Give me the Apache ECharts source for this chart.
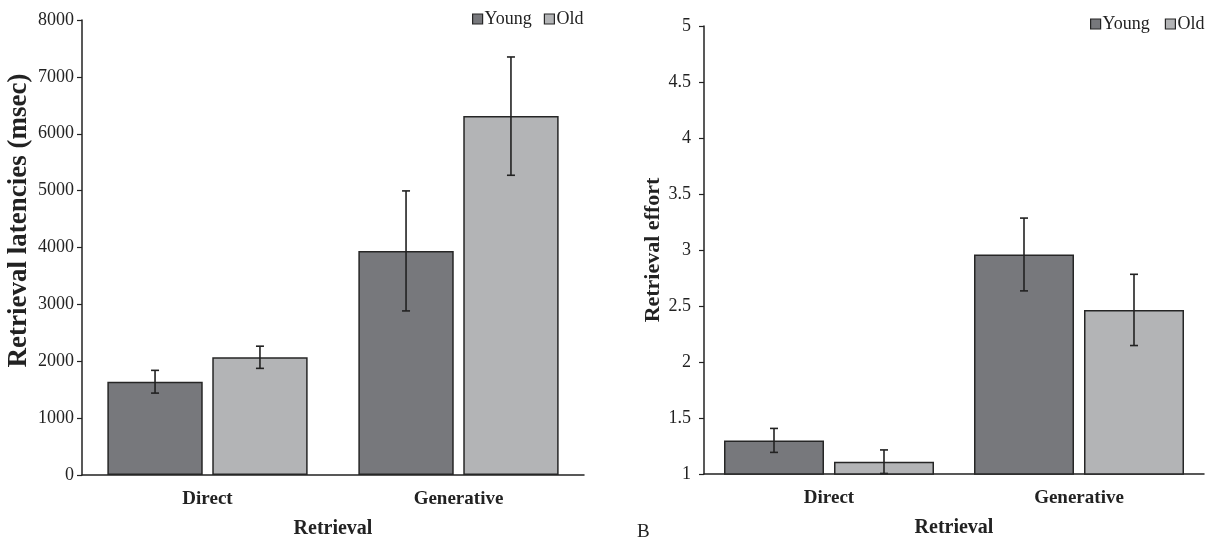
<!DOCTYPE html>
<html>
<head>
<meta charset="utf-8">
<script src="https://cdn.jsdelivr.net/npm/echarts@6/dist/echarts.min.js"></script>
<style>html,body{margin:0;padding:0;background:#fff}#c{width:1212px;height:541px}</style>
</head>
<body>
<div id="c"></div>
<script>
var categories = ['Direct', 'Generative'];
var seriesNames = ['Young', 'Old'];
// Left panel: retrieval latencies (msec)
var latYoung = [1640, 3940];
var latOld = [2070, 6310];
var latYoungErr = [200, 1055];
var latOldErr = [195, 1040];
var latTicks = [0, 8000, 1000];
// Right panel: retrieval effort
var effYoung = [1.30, 2.96];
var effOld = [1.11, 2.465];
var effYoungErr = [0.107, 0.325];
var effOldErr = [0.105, 0.318];
var effTicks = [1, 5, 0.5];

var FONT = 'Liberation Serif';
var darkFill = '#77787c';
var lightFill = '#b3b4b6';
var edge = '#262626';

function errSeries(name, xi, yi, vals, errs, sign, bwPct) {
  var data = vals.map(function (v, i) { return [i, v, errs[i]]; });
  return {
    type: 'custom', name: name + ' err', xAxisIndex: xi, yAxisIndex: yi, z: 10,
    silent: true, tooltip: { show: false },
    renderItem: function (params, api) {
      var x = api.value(0), v = api.value(1), e = api.value(2);
      var band = api.size([1, 0])[0];
      var off = sign * band * bwPct * 1.1 / 2;
      var top = api.coord([x, v + e]);
      var bot = api.coord([x, v - e]);
      var cx = top[0] + off;
      var cap = 4;
      var st = { stroke: '#222', lineWidth: 1.6 };
      return { type: 'group', children: [
        { type: 'line', shape: { x1: cx, y1: top[1], x2: cx, y2: bot[1] }, style: st },
        { type: 'line', shape: { x1: cx - cap, y1: top[1], x2: cx + cap, y2: top[1] }, style: st },
        { type: 'line', shape: { x1: cx - cap, y1: bot[1], x2: cx + cap, y2: bot[1] }, style: st }
      ]};
    },
    data: data
  };
}

function barSeries(name, xi, yi, vals, color, bw) {
  return {
    type: 'bar', name: name, xAxisIndex: xi, yAxisIndex: yi,
    data: vals, barWidth: bw, barGap: '10%',
    itemStyle: { color: color, borderColor: edge, borderWidth: 1.5 },
    emphasis: { disabled: true }
  };
}

function xAx(gi) {
  return {
    type: 'category', gridIndex: gi, data: categories,
    axisLine: { lineStyle: { color: '#222', width: 1.5 } },
    axisTick: { show: false },
    axisLabel: { fontFamily: FONT, fontWeight: 'bold', fontSize: 19, color: '#222', margin: 15 },
    name: 'Retrieval', nameLocation: 'middle', nameGap: 44,
    nameTextStyle: { fontFamily: FONT, fontWeight: 'bold', fontSize: 20, color: '#222' }
  };
}
function yAx(gi, t, name, gap, nameSize, margin, namePad) {
  return {
    type: 'value', gridIndex: gi, min: t[0], max: t[1], interval: t[2],
    axisLine: { show: true, lineStyle: { color: '#222', width: 1.5 } },
    axisTick: { show: true, length: 5, lineStyle: { color: '#222', width: 1.2 } },
    splitLine: { show: false },
    axisLabel: { fontFamily: FONT, fontSize: 18, color: '#222', margin: margin,
      formatter: function (v) { return String(v); } },
    name: name, nameLocation: 'middle', nameGap: gap, nameRotate: 90,
    nameTextStyle: { fontFamily: FONT, fontWeight: 'bold', fontSize: nameSize, color: '#222', padding: namePad }
  };
}

var legendBase = {
  data: seriesNames, icon: 'rect', itemWidth: 10, itemHeight: 10,
  textStyle: { fontFamily: FONT, fontSize: 18, color: '#222', padding: [0, 0, 0, -3] },
  itemStyle: { borderColor: edge, borderWidth: 1.2 },
  selectedMode: false
};

var chart = echarts.init(document.getElementById('c'));
chart.setOption({
  animation: false,
  title: { text: 'B', left: 632, top: 518, textStyle: { fontFamily: FONT, fontWeight: 'normal', fontSize: 19, color: '#222' } },
  legend: [
    Object.assign({}, legendBase, { left: 467, top: 5, itemGap: 12 }),
    Object.assign({}, legendBase, { left: 1085, top: 10, itemGap: 15 })
  ],
  grid: [
    { left: 82, top: 20, width: 502, height: 455, outerBoundsMode: 'none', containLabel: false },
    { left: 704, top: 26, width: 500, height: 448, outerBoundsMode: 'none', containLabel: false }
  ],
  xAxis: [xAx(0), xAx(1)],
  yAxis: [
    yAx(0, latTicks, 'Retrieval latencies (msec)', 49, 27, 8, [0, 0, 0, 54]),
    yAx(1, effTicks, 'Retrieval effort', 40, 22, 13, 0)
  ],
  series: [
    barSeries('Young', 0, 0, latYoung, darkFill, '38%'),
    barSeries('Old', 0, 0, latOld, lightFill, '38%'),
    barSeries('Young', 1, 1, effYoung, darkFill, '40%'),
    barSeries('Old', 1, 1, effOld, lightFill, '40%'),
    errSeries('Young', 0, 0, latYoung, latYoungErr, -1, 0.38),
    errSeries('Old', 0, 0, latOld, latOldErr, 1, 0.38),
    errSeries('Young', 1, 1, effYoung, effYoungErr, -1, 0.40),
    errSeries('Old', 1, 1, effOld, effOldErr, 1, 0.40)
  ]
});
</script>
</body>
</html>
